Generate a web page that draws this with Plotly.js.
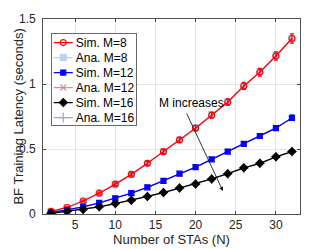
<!DOCTYPE html>
<html><head><meta charset="utf-8">
<script src="https://cdn.plot.ly/plotly-3.0.1.min.js"></script>
<style>html,body{margin:0;padding:0;background:#fff}#c{width:332px;height:249px}</style>
</head><body><div id="c"></div>
<script>
const N = [2,4,6,8,10,12,14,16,18,20,22,24,26,28,30,32];
const simM8  = [0.02,0.05,0.10,0.16,0.23,0.305,0.39,0.48,0.57,0.66,0.76,0.86,0.985,1.09,1.215,1.35];
const errM8  = [0.004,0.005,0.006,0.008,0.01,0.012,0.014,0.015,0.017,0.02,0.022,0.025,0.027,0.03,0.032,0.035];
const anaM8  = [0.02,0.05,0.10,0.16,0.23,0.305,0.39,0.48,0.57,0.665,0.765,0.865,0.98,1.095,1.22,1.35];
const simM12 = [0.01,0.03,0.055,0.085,0.12,0.16,0.205,0.255,0.31,0.36,0.42,0.48,0.54,0.60,0.66,0.74];
const errM12 = [0.003,0.004,0.005,0.005,0.006,0.007,0.008,0.009,0.01,0.011,0.012,0.013,0.014,0.015,0.016,0.02];
const anaM12 = [0.01,0.03,0.055,0.085,0.12,0.16,0.205,0.255,0.31,0.36,0.42,0.48,0.54,0.60,0.665,0.735];
const simM16 = [0.005,0.02,0.035,0.055,0.08,0.105,0.135,0.165,0.20,0.23,0.27,0.31,0.355,0.39,0.44,0.48];
const errM16 = [0.003,0.003,0.004,0.004,0.005,0.005,0.006,0.006,0.007,0.007,0.008,0.008,0.009,0.009,0.01,0.01];
const anaM16 = [0.005,0.02,0.035,0.055,0.08,0.105,0.135,0.165,0.20,0.23,0.27,0.31,0.35,0.39,0.44,0.48];
const xTicks = [5,10,15,20,25,30];
const yTicks = [0,0.5,1,1.5];
const yTickText = ['0','0.5','1','1.5'];

function sim(name, y, err, color, symbol, size, rank) {
  return {x:N, y:y, name:name, type:'scatter', mode:'lines+markers', legendrank:rank,
    line:{color:color, width:1.3},
    marker:{symbol:symbol, size:size, color:color, line:{color:color, width:1.2}},
    error_y:{type:'data', array:err, visible:true, color:color, thickness:1.2, width:2}};
}
function ana(name, y, color, symbol, size, rank) {
  return {x:N, y:y, name:name, type:'scatter', mode:'lines+markers', legendrank:rank,
    line:{color:color, width:1.2},
    marker:{symbol:symbol, size:size, color:color, line:{color:color, width:1.2}}};
}
const data = [
  ana('Ana. M=8', anaM8, '#b9d3f0', 'square', 6, 2),
  ana('Ana. M=12', anaM12, '#bf9a9a', 'x-thin-open', 6, 4),
  ana('Ana. M=16', anaM16, '#a9a3d3', 'cross-thin-open', 7, 6),
  sim('Sim. M=8', simM8, errM8, '#ff0000', 'circle-open', 6, 1),
  sim('Sim. M=12', simM12, errM12, '#0000ff', 'square', 5, 3),
  sim('Sim. M=16', simM16, errM16, '#000000', 'diamond', 6, 5)
];
const FAM = 'Liberation Sans, Arial, sans-serif';
const tickFont = {family:FAM, size:12, color:'#262626'};
const titleFont = {family:FAM, size:13, color:'#262626'};
const layout = {
  width:332, height:249,
  margin:{l:43, r:32, t:19, b:35},
  paper_bgcolor:'#fff', plot_bgcolor:'#fff',
  font:tickFont,
  showlegend:true,
  legend:{x:0.031, y:0.928, xanchor:'left', yanchor:'top', bgcolor:'#fff',
    bordercolor:'#444', borderwidth:0.8, font:{family:FAM, size:12, color:'#000'},
    tracegroupgap:0, itemwidth:30},
  xaxis:{range:[1,33], tickvals:xTicks, ticktext:xTicks.map(String), ticks:'inside', ticklen:3,
    tickfont:tickFont, showgrid:true, gridcolor:'#e6e6e6', showline:true, linecolor:'#262626',
    linewidth:0.8, mirror:'ticks', zeroline:false,
    title:{text:'Number of STAs (N)', font:titleFont, standoff:1}},
  yaxis:{range:[0,1.5], tickvals:yTicks, ticktext:yTickText, ticks:'inside', ticklen:3,
    tickfont:tickFont, showgrid:true, gridcolor:'#e6e6e6', showline:true, linecolor:'#262626',
    linewidth:0.8, mirror:'ticks', zeroline:false},
  annotations:[
    {x:23.4, y:0.177, ax:18.8, ay:0.785, xref:'x', yref:'y', axref:'x', ayref:'y',
     showarrow:true, arrowhead:2, arrowsize:1, arrowwidth:0.8, arrowcolor:'#000', text:''},
    {x:15.2, y:0.854, xref:'x', yref:'y', text:'M increases', showarrow:false, xanchor:'left',
     font:{family:FAM, size:12, color:'#000'}},
    {x:-0.097, y:0.5, xref:'paper', yref:'paper', text:'BF Training Latency (seconds)',
     textangle:-90, showarrow:false, xanchor:'center', yanchor:'middle', font:titleFont}
  ]
};
Plotly.newPlot('c', data, layout, {displayModeBar:false, staticPlot:true}).then(function(gd){
  // nudge y tick labels a little further from the axis, as in the reference
  gd.querySelectorAll('.ytick text').forEach(function(t){
    const x = parseFloat(t.getAttribute('x') || '0');
    t.setAttribute('x', x - 4);
  });
  // compact the legend to match the reference spacing
  const items = gd.querySelectorAll('.legend .traces');
  if (!items.length) return;
  const m = /translate\(\s*([-\d.]+)[ ,]+([-\d.]+)/.exec(items[0].getAttribute('transform') || '');
  const x0 = m ? parseFloat(m[1]) : 1;
  const y0 = 9.5, step = 15;
  items.forEach(function(t, i){
    t.setAttribute('transform', 'translate(' + x0 + ',' + (y0 + i*step) + ')');
    t.querySelectorAll('.legendlines path').forEach(p => p.setAttribute('d', 'M2,0h19'));
    t.querySelectorAll('.legendpoints path').forEach(p => {
      const tr = p.getAttribute('transform') || '';
      p.setAttribute('transform', tr.replace(/translate\([^)]*\)/, 'translate(11.5,0)') || 'translate(11.5,0)');
    });
    const txt = t.querySelector('.legendtext');
    if (txt) txt.setAttribute('x', 24);
  });
  const h = y0 + 5*step + 8, w = 85;
  const bg = gd.querySelector('.legend .bg');
  if (bg) { bg.setAttribute('height', h); bg.setAttribute('width', w); }
  gd.querySelectorAll('.legend clipPath rect, .legend .scrollbox rect').forEach(r => { r.setAttribute('height', h); r.setAttribute('width', w); });
});
</script></body></html>
